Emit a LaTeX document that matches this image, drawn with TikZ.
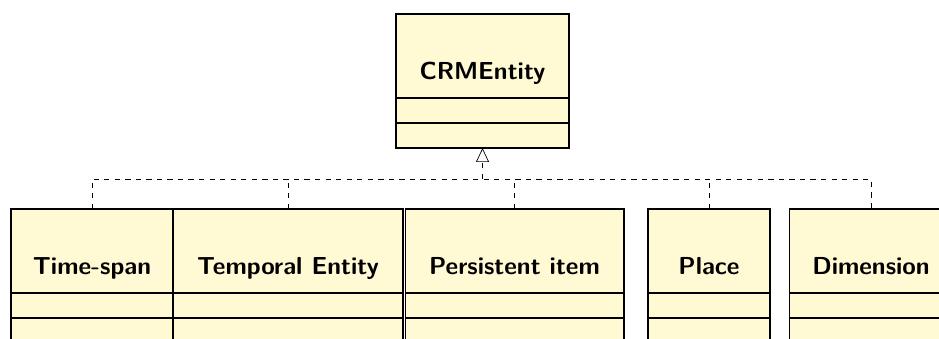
\documentclass[tikz,border=0pt]{standalone}
\usetikzlibrary{positioning,arrows.meta}
\definecolor{classfill}{RGB}{255,249,212}

\begin{document}
\begin{tikzpicture}[x=0.02cm,y=-0.02cm]
    \tikzset{%
      part/.style={rectangle, draw, line width=0.6pt, fill=classfill,
        inner sep=0pt, outer sep=0pt, minimum height=0.5cm},
      head/.style={part, minimum height=1.68cm},
      title/.style={anchor=base, inner sep=0pt,
        font=\sffamily\bfseries\fontsize{14}{16}\selectfont},
      dep/.style={dashed, thin},
      gen/.style={dep, -{Triangle[open, length=0.28cm, width=0.26cm]}},
    }
    \useasboundingbox (0,0) rectangle (939,338);
    \clip (0,0) rectangle (939,338);

    % superclass
    \node[head, minimum width=3.46cm] (CRM) at (482.5,56) {};
    \node[part, minimum width=3.46cm, below=0pt of CRM] (CRM1) {};
    \node[part, minimum width=3.46cm, below=0pt of CRM1] (CRM2) {};
    \node[title] at ([yshift=-0.48cm]CRM.center) {CRMEntity};

    % subclasses
    \node[head, minimum width=3.24cm] (TS) at (92,251) {};
    \node[part, minimum width=3.24cm, below=0pt of TS] (TS1) {};
    \node[part, minimum width=3.24cm, below=0pt of TS1] (TS2) {};
    \node[title] at ([yshift=-0.46cm]TS.center) {Time-span};

    \node[head, minimum width=4.6cm] (TE) at (288,251) {};
    \node[part, minimum width=4.6cm, below=0pt of TE] (TE1) {};
    \node[part, minimum width=4.6cm, below=0pt of TE1] (TE2) {};
    \node[title] at ([yshift=-0.46cm]TE.center) {Temporal Entity};

    \node[head, minimum width=4.38cm] (PI) at (514.5,251) {};
    \node[part, minimum width=4.38cm, below=0pt of PI] (PI1) {};
    \node[part, minimum width=4.38cm, below=0pt of PI1] (PI2) {};
    \node[title] at ([yshift=-0.46cm]PI.center) {Persistent item};

    \node[head, minimum width=2.44cm] (PL) at (709,251) {};
    \node[part, minimum width=2.44cm, below=0pt of PL] (PL1) {};
    \node[part, minimum width=2.44cm, below=0pt of PL1] (PL2) {};
    \node[title] at ([yshift=-0.46cm]PL.center) {Place};

    \node[head, minimum width=3.28cm] (DIM) at (871,251) {};
    \node[part, minimum width=3.28cm, below=0pt of DIM] (DIM1) {};
    \node[part, minimum width=3.28cm, below=0pt of DIM1] (DIM2) {};
    \node[title] at ([yshift=-0.46cm]DIM.center) {Dimension};

    % generalisation
    \coordinate (bus) at (482.5,179);
    \draw[dep] (TS.north) |- (bus) -| (DIM.north);
    \draw[dep] (TE.north) -- (TE.north |- bus);
    \draw[dep] (PI.north) -- (PI.north |- bus);
    \draw[dep] (PL.north) -- (PL.north |- bus);
    \draw[gen] (bus) -- (CRM2.south);
\end{tikzpicture}
\end{document}
